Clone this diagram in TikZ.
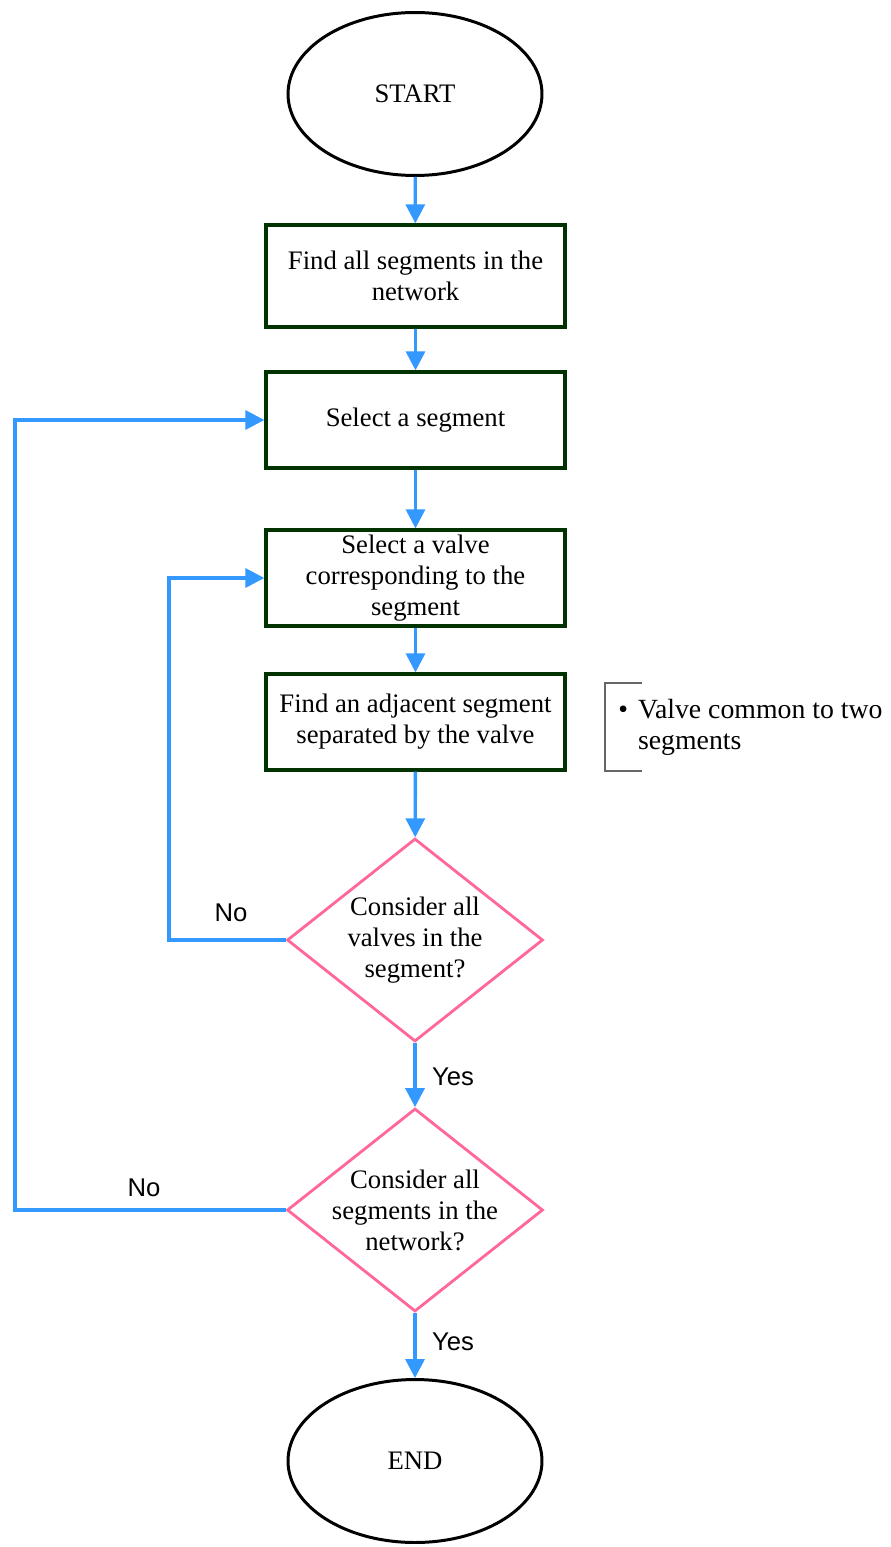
\documentclass[tikz,border=0pt]{standalone}
\usepackage{fontspec}
\setmainfont{Liberation Serif}
\newfontfamily\labelfont{Liberation Sans}
\usepackage{tikz}
\usetikzlibrary{arrows.meta,shapes.geometric}
\definecolor{FlowBlue}{HTML}{3399FF}
\definecolor{BoxGreen}{HTML}{003300}
\definecolor{QuestionPink}{HTML}{FF6699}
\definecolor{NoteGray}{HTML}{666666}

\begin{document}
\begin{tikzpicture}[x=0.02cm,y=-0.02cm,
  every node/.style={font=\fontsize{15.2}{17.6}\selectfont},
  terminal/.style={draw=black,line width=1.7pt,ellipse,minimum width=5.08cm,minimum height=3.26cm,inner sep=0pt},
  stepbox/.style={draw=BoxGreen,line width=1.9pt,rectangle,minimum width=5.98cm,minimum height=1.92cm,align=center,inner sep=0pt},
  decision/.style={draw=QuestionPink,line width=1.6pt,diamond,minimum width=5.12cm,minimum height=4.06cm,inner sep=0pt},
  flow/.style={draw=FlowBlue,line width=1.9pt,-{Triangle[length=0.38cm,width=0.38cm]}},
  lbl/.style={font=\labelfont\fontsize{14.6}{17}\selectfont}]
\useasboundingbox (0,0) rectangle (891,1547);
\def\colx{415.5}

% terminals
\node[terminal] (start) at (415,94) {START};
\node[terminal] (end) at (415,1461) {END};

% steps
\node[stepbox,minimum height=2.04cm] (findall) at (\colx,276) {Find all segments in the\\network};
\node[stepbox] (selseg) at (\colx,420) {Select a segment};
\node[stepbox] (selvalve) at (\colx,578) {Select a valve\\corresponding to the\\segment};
\node[stepbox] (findadj) at (\colx,722) {Find an adjacent segment\\separated by the valve};

% questions
\node[decision] (allvalves) at (415,940) {};
\node[align=center] (allvalvestxt) at (allvalves.center) {Consider all\\valves in the\\segment?};
\node[decision] (allsegs) at (415,1210) {};
\node[align=center] (allsegstxt) at (allsegs.center) {Consider all\\segments in the\\network?};

% note
\draw[NoteGray,line width=0.6pt] (642,683) -- (605,683) -- (605,771) -- (642,771);
\node[anchor=west,align=left,inner sep=0pt,font=\fontsize{15.8}{17.6}\selectfont] (note) at (618,727)
  {\textbullet\hspace{0.2cm}Valve common to two\\\phantom{\textbullet}\hspace{0.2cm}segments};

% main flow
\draw[flow] (start) -- (findall);
\draw[flow] (findall) -- (selseg);
\draw[flow] (selseg) -- (selvalve);
\draw[flow] (selvalve) -- (findadj);
\draw[flow] (findadj) -- (allvalves);
\draw[flow] (allvalves) -- (allsegs);
\draw[flow] (allsegs) -- (end);

% loops back
\coordinate (valveloop) at (169,940);
\coordinate (segloop) at (15,1210);
\draw[flow] (allvalves.west) -- (valveloop) |- (selvalve.west);
\draw[flow] (allsegs.west) -- (segloop) |- (selseg.west);

% labels
\node[lbl] (no1) at (231,913) {No};
\node[lbl] (no2) at (144,1188) {No};
\node[lbl] (yes1) at (453,1077) {Yes};
\node[lbl] (yes2) at (453,1342) {Yes};
\end{tikzpicture}
\end{document}
